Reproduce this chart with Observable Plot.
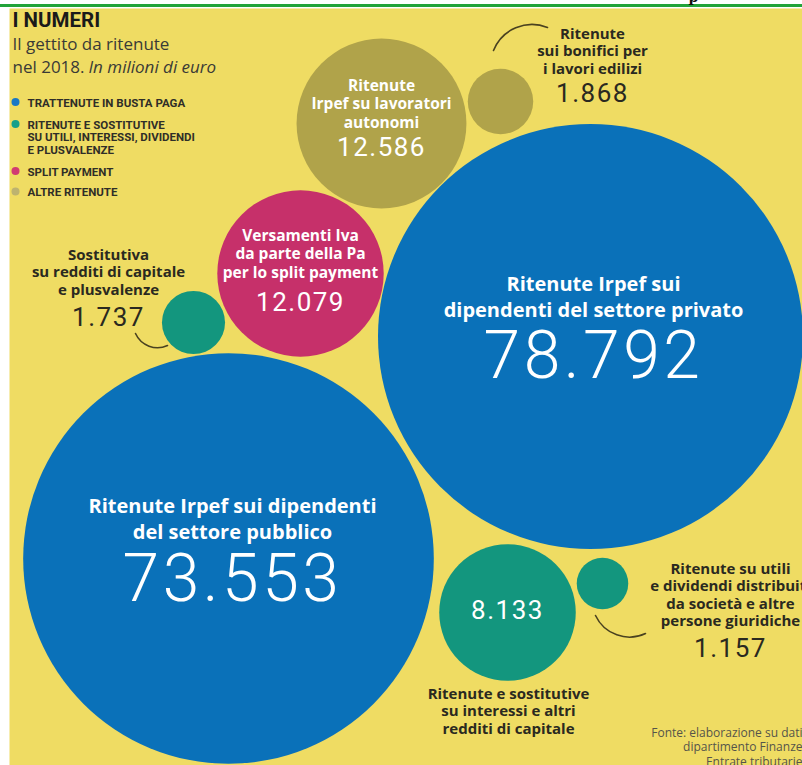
<!DOCTYPE html>
<html><head><meta charset="utf-8">
<script src="https://cdn.jsdelivr.net/npm/d3@7"></script>
<script src="https://cdn.jsdelivr.net/npm/@observablehq/plot@0.6"></script>
<style>
html,body{margin:0;padding:0;background:#fff;overflow:hidden}
#chart svg{display:block}
g[aria-description="bignum"] text{letter-spacing:3.5px}
g[aria-description="num"] text{letter-spacing:1.5px}
</style></head><body><div id="chart"></div>
<script>
// ---- data ----
const categories = ["Trattenute in busta paga", "Ritenute e sostitutive su utili, interessi, dividendi e plusvalenze", "Split payment", "Altre ritenute"];
const legendLabels = ["TRATTENUTE IN BUSTA PAGA", "RITENUTE E SOSTITUTIVE\nSU UTILI, INTERESSI, DIVIDENDI\nE PLUSVALENZE", "SPLIT PAYMENT", "ALTRE RITENUTE"];
const categoryColors = ["#0a71b9", "#13967e", "#c6306a", "#b0a34a"];
const legendColors = ["#1a78c4", "#17a08a", "#d13a72", "#bdb36f"];

const names = [
  "Ritenute Irpef sui\ndipendenti del settore privato",
  "Ritenute Irpef sui dipendenti\ndel settore pubblico",
  "Ritenute\nIrpef su lavoratori\nautonomi",
  "Versamenti Iva\nda parte della Pa\nper lo split payment",
  "Ritenute e sostitutive\nsu interessi e altri\nredditi di capitale",
  "Ritenute\nsui bonifici per\ni lavori edilizi",
  "Sostitutiva\nsu redditi di capitale\ne plusvalenze",
  "Ritenute su utili\ne dividendi distribuiti\nda società e altre\npersone giuridiche"
];
const values = [78792, 73553, 12586, 12079, 8133, 1868, 1737, 1157];
const categoryIndex = [0, 0, 3, 2, 1, 3, 1, 1];
const labelKind = ["big", "big", "inside", "inside", "outside", "outside", "outside", "outside"];
const numberKind = ["big", "big", "inside", "inside", "inside", "outside", "outside", "outside"];

// ---- layout (bubble packing positions, in chart units) ----
const bubbleX = [590, 228, 381, 300, 507, 500, 193, 602];
const bubbleY = [336, 558, 123, 273, 612, 101, 322, 583];
const labelX = [593, 232, 381, 300, 508, 592, 108, 730];
const labelY = [295, 517, 103, 253, 710, 50, 271, 594];
const numberX = [593, 232, 381, 300, 507, 592, 108, 730];
const numberY = [356, 579, 147, 302, 610, 93, 317, 648];
// leader arcs for the small bubbles (5, 6, 7)
const leaderFrom = [[547, 27], [135, 333], [595, 615]];
const leaderTo = [[493, 50], [167, 345], [645, 633]];
const legendX = 15, legendTextX = 27;
const legendY = [101.5, 123.5, 170.5, 191];

const itLocale = d3.formatLocale({decimal: ",", thousands: ".", grouping: [3], currency: ["", " €"]});
const fmt = itLocale.format(",d");

const rows = values.map((v, i) => ({
  name: names[i], value: v, category: categories[categoryIndex[i]],
  labelKind: labelKind[i], numberKind: numberKind[i],
  bx: bubbleX[i], by: bubbleY[i], lx: labelX[i], ly: labelY[i], nx: numberX[i], ny: numberY[i]
}));
const leaders = leaderFrom.map((f, i) => ({x1: f[0], y1: f[1], x2: leaderTo[i][0], y2: leaderTo[i][1]}));
const legendRows = categories.map((c, i) => ({category: c, label: legendLabels[i], color: legendColors[i], y: legendY[i]}));

const dark = "#2a2920";
const sans = "'Open Sans', sans-serif";
const numFont = "Roboto, sans-serif";

const plot = Plot.plot({
  width: 802, height: 765,
  marginTop: 8, marginLeft: 9, marginRight: 0, marginBottom: 0,
  x: {domain: [9, 802], range: [9, 802], axis: null},
  y: {domain: [8, 765], range: [8, 765], axis: null},
  r: {type: "sqrt", domain: [0, 78792], range: [0, 212.5]},
  color: {domain: categories, range: categoryColors},
  style: {background: "#fff", overflow: "hidden"},
  marks: [
    Plot.frame({fill: "#efdc63", stroke: null}),
    Plot.ruleY([5], {x1: 0, x2: 802, stroke: "#22a33a", strokeWidth: 3}),
    Plot.text(["p"], {x: 693, y: 1, text: d => d, fontSize: 14, fontFamily: "DejaVu Serif", fontWeight: 700, lineAnchor: "bottom", fill: "#111"}),
    // bubbles
    Plot.dot(rows, {x: "bx", y: "by", r: "value", fill: "category"}),
    // leader arcs
    Plot.arrow(leaders, {x1: "x1", y1: "y1", x2: "x2", y2: "y2", bend: -45, headLength: 0, stroke: "#4a4220", strokeWidth: 1.6}),
    // labels
    Plot.text(rows, {filter: d => d.labelKind === "big", x: "lx", y: "ly", text: "name", fill: "#fff", fontFamily: sans, fontWeight: 700, fontSize: 20, lineHeight: 1.3, lineAnchor: "middle"}),
    Plot.text(rows, {filter: d => d.labelKind === "inside", x: "lx", y: "ly", text: "name", fill: "#fff", fontFamily: sans, fontWeight: 700, fontSize: 15.5, lineHeight: 1.18, lineAnchor: "middle"}),
    Plot.text(rows, {filter: d => d.labelKind === "outside", x: "lx", y: "ly", text: "name", fill: dark, fontFamily: sans, fontWeight: 700, fontSize: 15, lineHeight: 1.17, lineAnchor: "middle"}),
    // numbers
    Plot.text(rows, {filter: d => d.numberKind === "big", x: "nx", y: "ny", text: d => fmt(d.value), fill: "#fff", fontFamily: numFont, fontWeight: 300, fontSize: 66, lineAnchor: "middle", ariaDescription: "bignum"}),
    Plot.text(rows, {filter: d => d.numberKind === "inside", x: "nx", y: "ny", text: d => fmt(d.value), fill: "#fff", fontFamily: numFont, fontWeight: 400, fontSize: 26, lineAnchor: "middle", ariaDescription: "num"}),
    Plot.text(rows, {filter: d => d.numberKind === "outside", x: "nx", y: "ny", text: d => fmt(d.value), fill: dark, fontFamily: numFont, fontWeight: 400, fontSize: 26, lineAnchor: "middle", ariaDescription: "num"}),
    // title block
    Plot.text(["I NUMERI"], {x: 12, y: 26, text: d => d, textAnchor: "start", lineAnchor: "bottom", fontFamily: numFont, fontWeight: 700, fontSize: 20.5, fill: "#1a1a1a"}),
    Plot.text(["Il gettito da ritenute"], {x: 12, y: 49, text: d => d, textAnchor: "start", lineAnchor: "bottom", fontFamily: sans, fontSize: 17, fill: "#3a3a36"}),
    Plot.text(["nel 2018."], {x: 12, y: 72, text: d => d, textAnchor: "start", lineAnchor: "bottom", fontFamily: sans, fontSize: 17, fill: "#3a3a36"}),
    Plot.text(["In milioni di euro"], {x: 88, y: 72, text: d => d, textAnchor: "start", lineAnchor: "bottom", fontFamily: sans, fontStyle: "italic", fontSize: 17, fill: "#3a3a36"}),
    // legend
    Plot.dot(legendRows, {x: legendX, y: "y", r: 4, fill: "color"}),
    Plot.text(legendRows, {x: legendTextX, y: d => d.y - 4.2, text: "label", textAnchor: "start", lineAnchor: "top", fontFamily: numFont, fontWeight: 700, fontSize: 11.5, lineHeight: 1.1, fill: "#2f2e28"}),
    // source
    Plot.text(["Fonte: elaborazione su dati\ndipartimento Finanze\nEntrate tributarie"], {x: 802, y: 746, text: d => d, textAnchor: "end", lineAnchor: "middle", fontFamily: sans, fontSize: 12, lineHeight: 1.2, fill: "#55544a"})
  ]
});
document.getElementById("chart").appendChild(plot);
</script>
</body></html>
